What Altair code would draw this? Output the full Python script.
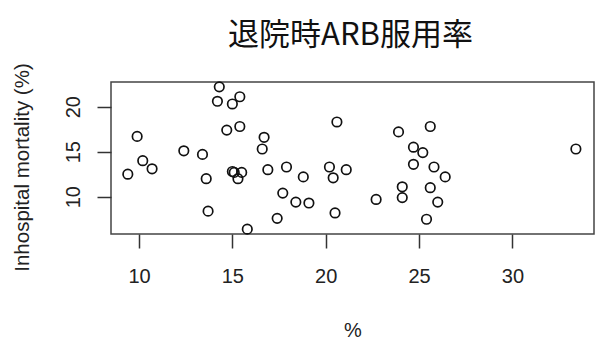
import altair as alt
import pandas as pd

title_text = "退院時ARB服用率"
x_title = "%"
y_title = "Inhospital mortality (%)"

arb_rate = [14.3, 14.2, 15.4, 15.0, 9.9, 14.7, 15.4, 16.7, 16.6, 12.4, 13.4, 10.2,
            10.7, 9.4, 13.6, 15.0, 15.1, 15.5, 15.3, 16.9, 17.7, 13.7, 17.4, 15.8,
            17.9, 18.8, 18.4, 19.1, 20.6, 20.2, 20.4, 21.1, 20.5, 22.7, 23.9, 25.6,
            24.7, 25.2, 24.7, 25.8, 26.4, 24.1, 24.1, 25.6, 26.0, 25.4, 33.4]
mortality = [22.2, 20.6, 21.1, 20.3, 16.7, 17.4, 17.8, 16.6, 15.3, 15.1, 14.7, 14.0,
             13.1, 12.5, 12.0, 12.8, 12.7, 12.7, 12.0, 13.0, 10.4, 8.4, 7.6, 6.4,
             13.3, 12.2, 9.4, 9.3, 18.3, 13.3, 12.1, 13.0, 8.2, 9.7, 17.2, 17.8,
             15.5, 14.9, 13.6, 13.3, 12.2, 11.1, 9.9, 11.0, 9.4, 7.5, 15.3]
x_ticks = [10, 15, 20, 25, 30]
y_ticks = [10, 15, 20]

df = pd.DataFrame({"x": arb_rate, "y": mortality})

font = "Liberation Sans"

chart = alt.Chart(df).mark_point(
    shape="circle", filled=False, stroke="#111", strokeWidth=1.7, size=90, opacity=1
).encode(
    x=alt.X("x:Q", scale=alt.Scale(domain=[8.5, 34.37], nice=False, zero=False),
            axis=alt.Axis(values=x_ticks, title=x_title, domain=False, grid=False,
                          tickSize=14, tickColor="#333", tickWidth=1.5,
                          labelFontSize=20, labelFont=font, labelColor="#222",
                          labelPadding=18,
                          titleFontSize=20, titleFont=font, titleFontWeight="normal",
                          titleColor="#222", titleX=241.5, titleY=96,
                          titleAnchor="middle", titleBaseline="middle")),
    y=alt.Y("y:Q", scale=alt.Scale(domain=[5.86, 22.74], nice=False, zero=False),
            axis=alt.Axis(values=y_ticks, title=y_title, domain=False, grid=False,
                          tickSize=14, tickColor="#333", tickWidth=1.5,
                          labelFontSize=20, labelFont=font, labelColor="#222",
                          labelAngle=270, labelAlign="center", labelBaseline="bottom",
                          labelPadding=14,
                          titleFontSize=20.5, titleFont=font, titleFontWeight="normal",
                          titleColor="#222", titleAngle=270, titleX=-89, titleY=85,
                          titleAlign="center", titleBaseline="middle")),
).properties(
    width=483,
    height=152,
    title=alt.TitleParams(title_text, font="Noto Sans CJK JP", fontSize=31,
                          fontWeight="normal", color="#111", anchor="middle",
                          baseline="alphabetic", offset=0, dy=13, dx=-2),
    autosize=alt.AutoSizeParams(type="none"),
    padding={"left": 103, "top": 74, "right": 2, "bottom": 110},
).configure_view(
    stroke="#444", strokeWidth=1.5
)

chart.save("out.html", embed_options={"renderer": "svg", "actions": False})
